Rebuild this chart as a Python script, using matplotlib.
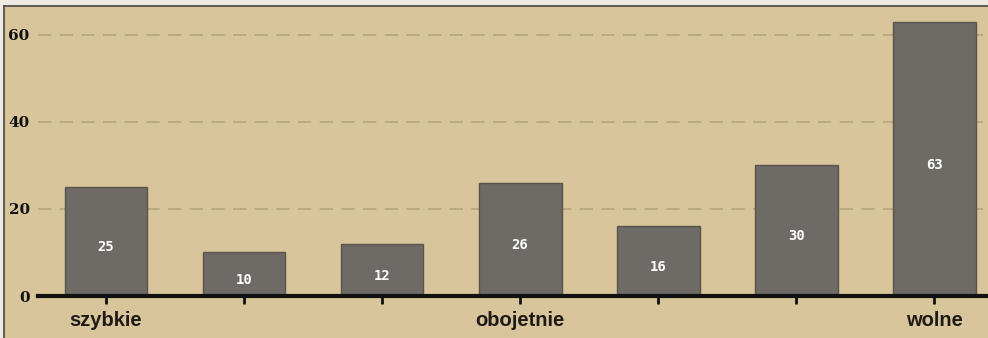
import matplotlib
matplotlib.use("Agg")
import matplotlib.pyplot as plt
from matplotlib.patches import Rectangle

# Speed ratings: seven answer groups, labelled at both ends and the middle
values = [25, 10, 12, 26, 16, 30, 63]
tick_labels = ["szybkie", "", "", "obojetnie", "", "", "wolne"]
y_ticks = [0, 20, 40, 60]

W, H, DPI = 988, 338, 100
fig = plt.figure(figsize=(W / DPI, H / DPI), dpi=DPI)
fig.patch.set_facecolor("#eeebe5")

paper = "#d8c59c"
# tan panel with a dark frame along the top and left
panel = Rectangle((4 / W, 0), 1 - 4 / W, (H - 6) / H, transform=fig.transFigure,
                  facecolor=paper, edgecolor="none", zorder=-10)
fig.patches.append(panel)
fig.add_artist(plt.Line2D([4 / W, 1], [(H - 6) / H] * 2, transform=fig.transFigure,
                          color="#4a4740", lw=1.2, zorder=-5))
fig.add_artist(plt.Line2D([4 / W, 4 / W], [0, (H - 6) / H], transform=fig.transFigure,
                          color="#4a4740", lw=1.2, zorder=-5))

ax_left, ax_bottom = 38 / W, (H - 296) / H
ax = fig.add_axes([ax_left, ax_bottom, 1 - ax_left, (296 - 7) / H])
ax.set_facecolor("none")
ax.set_zorder(1)

x = list(range(len(values)))
bars = ax.bar(x, values, width=0.6, color="#6e6a65", edgecolor="#5a544b",
              linewidth=1.0, zorder=3)
for xi, v in zip(x, values):
    ax.text(xi, v / 2 - 1.3, str(v), ha="center", va="center", color="white",
            fontsize=10, fontweight="bold", family="DejaVu Sans Mono", zorder=4)

ax.set_xlim(-0.493, 6.39)
ax.set_ylim(0, 66.4)

ax.set_yticks(y_ticks)
ax.set_yticklabels([str(t) for t in y_ticks], fontsize=11, fontweight="bold",
                   family="DejaVu Serif", color="#111111")
ax.tick_params(axis="y", length=0, pad=6)
for t in y_ticks[1:]:
    ax.axhline(t, color="#9a8866", lw=1.2, ls=(0, (8, 5)), alpha=0.55, zorder=1)

ax.set_xticks(x)
ax.set_xticklabels(tick_labels, fontsize=14.5, fontweight="bold",
                   family="Liberation Sans", color="#1e1a16")
ax.tick_params(axis="x", length=6, width=2, color="#111111", pad=5, direction="out")

for side in ["top", "right", "left"]:
    ax.spines[side].set_visible(False)
ax.spines["bottom"].set_linewidth(3)
ax.spines["bottom"].set_color("#111111")
ax.spines["bottom"].set_zorder(5)

fig.savefig("out.png", dpi=DPI, facecolor=fig.get_facecolor())
